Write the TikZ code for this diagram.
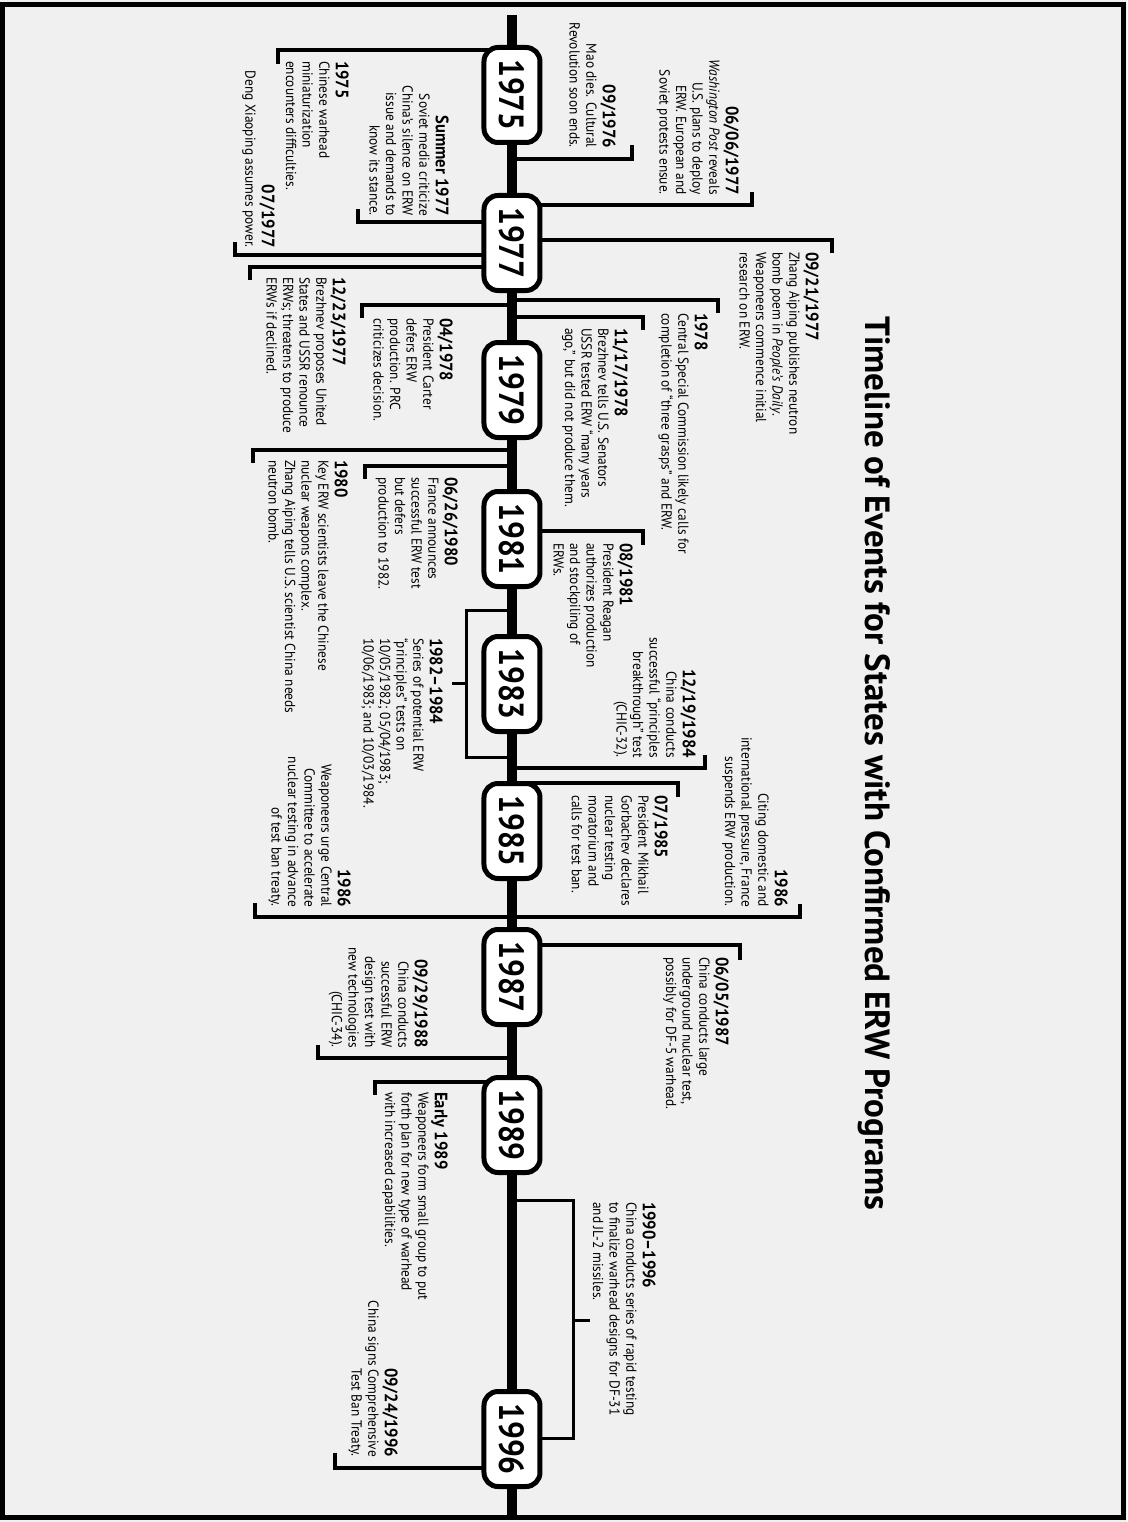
\documentclass[tikz,border=0pt]{standalone}
\usepackage{fontspec}
\setmainfont{PT Sans}
\newfontfamily\evfam[FakeStretch=0.92]{PT Sans}
\newfontfamily\ttlfam{PT Sans}
\newfontfamily\yrfam[FakeStretch=0.9]{PT Sans}
\newcommand\hd[1]{{\bfseries\fontsize{18}{16.6}\selectfont #1\strut}}
\definecolor{bgc}{HTML}{F0F0F0}
\tikzset{
  con/.style={line width=3.5pt, line join=miter},
  brk/.style={line width=3pt, line join=miter},
  yearbox/.style={draw, line width=5pt, fill=white, rounded corners=14pt, minimum width=95pt, minimum height=56pt, inner sep=0pt, font=\yrfam\bfseries\fontsize{35}{38}\selectfont},
  evl/.style={inner sep=0pt, align=left, anchor=north west, font=\evfam\fontsize{14.5}{16.6}\selectfont},
  evr/.style={inner sep=0pt, align=right, anchor=north east, font=\evfam\fontsize{14.5}{16.6}\selectfont},
}
\begin{document}
\begin{tikzpicture}[x=1pt,y=-1pt,rotate=-90,transform shape]
\useasboundingbox (0,0) rectangle (1522,1127);
\fill[bgc] (0,0) rectangle (1522,1127);
\draw[line width=5pt] (4.5,3.5) rectangle (1517.5,1124.5);
% title
\node[anchor=base west, inner sep=0pt, font=\ttlfam\bfseries\fontsize{35}{40}\selectfont] (title) at (316,261) {Timeline of Events for States with Confirmed ERW Programs};
% timeline
\coordinate (ts) at (15,615);
\coordinate (te) at (1518,615);
\draw[line width=10pt] (ts) -- (te);
% connectors below
\draw[con] (50,615) -- (50,849) -- (64,849);
\draw[con] (222,615) -- (222,769) -- (209,769);
\draw[con] (255,615) -- (255,892) -- (242,892);
\draw[con] (267,615) -- (267,877) -- (280,877);
\draw[con] (305,615) -- (305,765) -- (318,765);
\draw[con] (450,615) -- (450,874) -- (463,874);
\draw[con] (466,615) -- (466,762) -- (479,762);
\draw[brk] (610,615) -- (610,660) -- (757,660) -- (757,615);
\draw[brk] (683,660) -- (683,675);
\draw[con] (917,615) -- (917,872) -- (903,872);
\draw[con] (1058,615) -- (1058,809) -- (1045,809);
\draw[con] (1082,615) -- (1082,752) -- (1095,752);
\draw[con] (1468,615) -- (1468,792) -- (1453,792);
% connectors above
\draw[con] (159,615) -- (159,495) -- (145,495);
\draw[con] (205,615) -- (205,375) -- (192,375);
\draw[con] (240,615) -- (240,295) -- (253,295);
\draw[con] (300,615) -- (300,409) -- (313,409);
\draw[con] (317,615) -- (317,484) -- (330,484);
\draw[con] (531,615) -- (531,484) -- (545,484);
\draw[con] (768,615) -- (768,422) -- (755,422);
\draw[con] (917,615) -- (917,327) -- (904,327);
\draw[con] (783,615) -- (783,449) -- (797,449);
\draw[con] (945,615) -- (945,387) -- (960,387);
\draw[brk] (1200,615) -- (1200,553) -- (1438,553) -- (1438,615);
\draw[brk] (1320,553) -- (1320,537);
% year boxes
\node[yearbox] (y1975) at (95,615) {1975};
\node[yearbox] (y1977) at (243,615) {1977};
\node[yearbox] (y1979) at (390,615) {1979};
\node[yearbox] (y1981) at (539,615) {1981};
\node[yearbox] (y1983) at (684,615) {1983};
\node[yearbox] (y1985) at (831,615) {1985};
\node[yearbox] (y1987) at (977,615) {1987};
\node[yearbox] (y1989) at (1125,615) {1989};
\node[yearbox] (y1996) at (1439,615) {1996};
% texts below
\node[evl] (e1) at (61,778) {\hd{1975}\\Chinese warhead\\miniaturization\\encounters difficulties.};
\node[evr] (e2) at (216,678) {\hd{Summer 1977}\\Soviet media criticize\\China’s silence on ERW\\issue and demands to\\know its stance.};
\node[evr] (e3) at (248,852) {\hd{07/1977}\\Deng Xiaoping assumes power.};
\node[evl] (e4) at (277,781) {\hd{12/23/1977}\\Brezhnev proposes United\\States and USSR renounce\\ERWs; threatens to produce\\ERWs if declined.};
\node[evl] (e5) at (318,674) {\hd{04/1978}\\President Carter\\defers ERW\\production. PRC\\criticizes decision.};
\node[evl] (e6) at (460,779) {\hd{1980}\\Key ERW scientists leave the Chinese\\nuclear weapons complex.\\Zhang Aiping tells U.S. scientist China needs\\neutron bomb.};
\node[evl] (e7) at (477,669) {\hd{06/26/1980}\\France announces\\successful ERW test\\but defers\\production to 1982.};
\node[evl] (e8) at (638,684) {\hd{1982–1984}\\Series of potential ERW\\“principles” tests on\\10/05/1982; 05/04/1983;\\10/06/1983; and 10/03/1984.};
\node[evr] (e9) at (907,776) {\hd{1986}\\Weaponeers urge Central\\Committee to accelerate\\nuclear testing in advance\\of test ban treaty.};
\node[evr] (e10) at (1048,699) {\hd{09/29/1988}\\China conducts\\successful ERW\\design test with\\new technologies\\(CHIC-34).};
\node[evl] (e11) at (1092,679) {\hd{Early 1989}\\Weaponeers form small group to put\\forth plan for new type of warhead\\with increased capabilities.};
\node[evr] (e12) at (1457,729) {\hd{09/24/1996}\\China signs Comprehensive\\Test Ban Treaty.};
% texts above
\node[evr] (e13) at (148,511) {\hd{09/1976}\\Mao dies. Cultural\\Revolution soon ends.};
\node[evr] (e14) at (195,388) {\hd{06/06/1977}\\\emph{Washington Post} reveals\\U.S. plans to deploy\\ERW. European and\\Soviet protests ensue.};
\node[evl] (e15) at (252,308) {\hd{09/21/1977}\\Zhang Aiping publishes neutron\\bomb poem in \emph{People’s Daily}.\\Weaponeers commence initial\\research on ERW.};
\node[evl] (e16) at (313,419) {\hd{1978}\\Central Special Commission likely calls for\\completion of “three grasps” and ERW.};
\node[evl] (e17) at (328,499) {\hd{11/17/1978}\\Brezhnev tells U.S. Senators\\USSR tested ERW “many years\\ago,” but did not produce them.};
\node[evl] (e18) at (543,494) {\hd{08/1981}\\President Reagan\\authorizes production\\and stockpiling of\\ERWs.};
\node[evr] (e19) at (758,431) {\hd{12/19/1984}\\China conducts\\successful “principles\\breakthrough” test\\(CHIC-32).};
\node[evr] (e20) at (907,339) {\hd{1986}\\Citing domestic and\\international pressure, France\\suspends ERW production.};
\node[evl] (e21) at (795,459) {\hd{07/1985}\\President Mikhail\\Gorbachev declares\\nuclear testing\\moratorium and\\calls for test ban.};
\node[evl] (e22) at (957,398) {\hd{06/05/1987}\\China conducts large\\underground nuclear test,\\possibly for DF-5 warhead.};
\node[evl] (e23) at (1202,471) {\hd{1990–1996}\\China conducts series of rapid testing\\to finalize warhead designs for DF-31\\and JL-2 missiles.};
\end{tikzpicture}
\end{document}
